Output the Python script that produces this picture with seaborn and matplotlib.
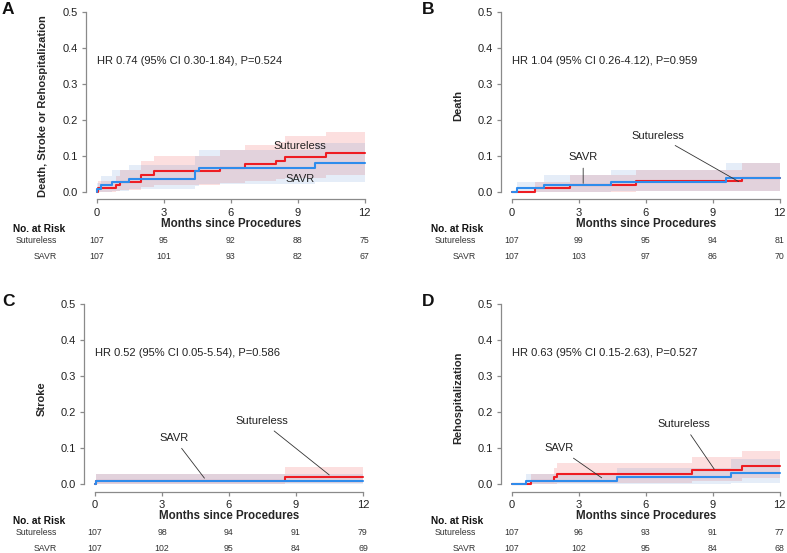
import matplotlib
matplotlib.use("Agg")
import matplotlib.pyplot as plt
import matplotlib.transforms as mtransforms
import pandas as pd
import seaborn as sns

sns.set_style("ticks")
plt.rcParams["font.family"] = ["Liberation Sans", "DejaVu Sans"]

RED = "#ee1d23"
BLUE = "#2f8cec"
GROUPS = ["Sutureless", "SAVR"]
MONTHS = [0, 3, 6, 9, 12]
FOLLOW_UP = 12

# A: death, stroke or rehospitalization
A_SUT_T = [0, 0.06, 0.85, 1.03, 2.0, 2.57, 5.5, 6.63, 8.02, 8.42, 10.28]
A_SUT_V = [0, 0.011, 0.02, 0.028, 0.047, 0.057, 0.067, 0.077, 0.086, 0.096, 0.109]
A_SUT_LO = [0, 0, 0.002, 0.005, 0.015, 0.02, 0.025, 0.03, 0.035, 0.04, 0.046]
A_SUT_HI = [0, 0.03, 0.045, 0.06, 0.087, 0.1, 0.118, 0.13, 0.14, 0.155, 0.167]
A_SAVR_T = [0, 0.03, 0.2, 0.67, 1.45, 4.42, 4.6, 9.78]
A_SAVR_V = [0, 0.009, 0.019, 0.028, 0.037, 0.057, 0.068, 0.08]
A_SAVR_LO = [0, 0, 0, 0.003, 0.008, 0.017, 0.022, 0.028]
A_SAVR_HI = [0, 0.025, 0.045, 0.06, 0.075, 0.1, 0.117, 0.135]

# B: death
B_SUT_T = [0, 1.05, 2.62, 5.56, 10.3]
B_SUT_V = [0, 0.01, 0.02, 0.03, 0.04]
B_SUT_LO = [0, 0, 0, 0.002, 0.004]
B_SUT_HI = [0, 0.029, 0.046, 0.062, 0.08]
B_SAVR_T = [0, 0.22, 1.45, 4.45, 9.6]
B_SAVR_V = [0, 0.01, 0.019, 0.029, 0.04]
B_SAVR_LO = [0, 0, 0, 0.002, 0.004]
B_SAVR_HI = [0, 0.029, 0.046, 0.062, 0.08]

# C: stroke
C_SUT_T = [0, 0.05, 8.49]
C_SUT_V = [0, 0.01, 0.021]
C_SUT_LO = [0, 0, 0.003]
C_SUT_HI = [0, 0.028, 0.049]
C_SAVR_T = [0, 0.03]
C_SAVR_V = [0, 0.01]
C_SAVR_LO = [0, 0]
C_SAVR_HI = [0, 0.028]

# D: rehospitalization
D_SUT_T = [0, 0.87, 1.91, 2.02, 8.07, 10.31]
D_SUT_V = [0, 0.01, 0.019, 0.029, 0.04, 0.051]
D_SUT_LO = [0, 0, 0, 0.003, 0.01, 0.017]
D_SUT_HI = [0, 0.028, 0.045, 0.06, 0.077, 0.093]
D_SAVR_T = [0, 0.63, 4.73, 9.82]
D_SAVR_V = [0, 0.01, 0.02, 0.032]
D_SAVR_LO = [0, 0, 0.002, 0.005]
D_SAVR_HI = [0, 0.028, 0.044, 0.07]

# numbers at risk
A_RISK_SUT = [107, 95, 92, 88, 75]
A_RISK_SAVR = [107, 101, 93, 82, 67]
B_RISK_SUT = [107, 99, 95, 94, 81]
B_RISK_SAVR = [107, 103, 97, 86, 70]
C_RISK_SUT = [107, 98, 94, 91, 79]
C_RISK_SAVR = [107, 102, 95, 84, 69]
D_RISK_SUT = [107, 96, 93, 91, 77]
D_RISK_SAVR = [107, 102, 95, 84, 68]

HR_TEXT = {
    "A": "HR 0.74 (95% CI 0.30-1.84), P=0.524",
    "B": "HR 1.04 (95% CI 0.26-4.12), P=0.959",
    "C": "HR 0.52 (95% CI 0.05-5.54), P=0.586",
    "D": "HR 0.63 (95% CI 0.15-2.63), P=0.527",
}
YLABELS = {
    "A": "Death, Stroke or Rehospitalization",
    "B": "Death",
    "C": "Stroke",
    "D": "Rehospitalization",
}

W, H = 787, 553


def curve_frame(t, v, lo, hi, group):
    return pd.DataFrame({
        "t": t + [FOLLOW_UP],
        "v": v + [v[-1]],
        "lo": lo + [lo[-1]],
        "hi": hi + [hi[-1]],
        "group": group,
    })


def draw_panel(ax, letter, sut, savr, risk_sut, risk_savr, notes, col):
    df = pd.concat([curve_frame(*sut, "Sutureless"), curve_frame(*savr, "SAVR")])

    # confidence bands first
    d = df[df.group == "Sutureless"]
    ax.fill_between(d.t, d.lo, d.hi, step="post", color=RED, alpha=0.14, lw=0)
    d = df[df.group == "SAVR"]
    ax.fill_between(d.t, d.lo, d.hi, step="post", color="#4a86d0", alpha=0.14, lw=0)

    sns.lineplot(data=df, x="t", y="v", hue="group", hue_order=GROUPS,
                 palette={"Sutureless": RED, "SAVR": BLUE}, drawstyle="steps-post",
                 estimator=None, errorbar=None, legend=False, lw=1.5, ax=ax)

    ax.set_xlim(-0.48, 12.48)
    ax.set_ylim(-0.02, 0.52)
    ax.set_xticks(MONTHS)
    ax.set_yticks([0, 0.1, 0.2, 0.3, 0.4, 0.5])
    ax.set_yticklabels(["0.0", "0.1", "0.2", "0.3", "0.4", "0.5"])
    sns.despine(ax=ax)
    ax.spines["left"].set_bounds(0, 0.5)
    ax.spines["bottom"].set_bounds(0, 12)
    for s in ("left", "bottom"):
        ax.spines[s].set_color("#8a8a8a")
        ax.spines[s].set_linewidth(0.9)
    ax.tick_params(length=3, width=0.9, color="#8a8a8a", labelsize=8,
                   labelcolor="#222222", pad=3)

    ax.set_xlabel("Months since Procedures", fontsize=8.3, fontweight="bold")
    ax.xaxis.set_label_coords(0.5, -0.095)
    ax.set_ylabel(YLABELS[letter], fontsize=8, fontweight="bold")
    ax.yaxis.set_label_coords(-0.13, 0.48)

    ax.text(0, 0.365, HR_TEXT[letter], fontsize=8, color="#222222", va="center")

    for label, (tx, ty), end in notes:
        if end is None:
            ax.text(tx, ty, label, fontsize=8, color="#222222", ha="center", va="center")
        else:
            ax.annotate(label, xy=end, xytext=(tx, ty), fontsize=8, color="#222222",
                        ha="center", va="center",
                        arrowprops=dict(arrowstyle="-", color="#333333", lw=0.6,
                                        shrinkA=2, shrinkB=0))

    # risk table
    trans = mtransforms.blended_transform_factory(ax.transData, ax.transAxes)
    for x, n1, n2 in zip(MONTHS, risk_sut, risk_savr):
        ax.text(x, -0.21, str(n1), transform=trans, fontsize=6.3, color="#333333",
                ha="center", va="center")
        ax.text(x, -0.295, str(n2), transform=trans, fontsize=6.3, color="#333333",
                ha="center", va="center")

    pos = ax.get_position()
    left_px, right_px = (13, 57) if col == 0 else (431, 476)
    fig = ax.figure
    fig.text(left_px / W, pos.y0 - 0.153 * pos.height, "No. at Risk", fontsize=7.3,
             fontweight="bold", color="#111111", ha="left", va="center")
    fig.text(right_px / W, pos.y0 - 0.21 * pos.height, "Sutureless", fontsize=6.3,
             color="#333333", ha="right", va="center")
    fig.text(right_px / W, pos.y0 - 0.295 * pos.height, "SAVR", fontsize=6.3,
             color="#333333", ha="right", va="center")


fig = plt.figure(figsize=(W / 100, H / 100), dpi=100)
ax_w = 289.4 / W
ax_h = 194.4 / H
positions = {
    "A": (86 / W, 1 - 199.2 / H),
    "B": (501 / W, 1 - 199.2 / H),
    "C": (84.3 / W, 1 - 491.5 / H),
    "D": (501 / W, 1 - 491.5 / H),
}
panels = [
    ("A", (A_SUT_T, A_SUT_V, A_SUT_LO, A_SUT_HI), (A_SAVR_T, A_SAVR_V, A_SAVR_LO, A_SAVR_HI),
     A_RISK_SUT, A_RISK_SAVR,
     [("Sutureless", (9.09, 0.129), None), ("SAVR", (9.09, 0.036), None)], 0, 10),
    ("B", (B_SUT_T, B_SUT_V, B_SUT_LO, B_SUT_HI), (B_SAVR_T, B_SAVR_V, B_SAVR_LO, B_SAVR_HI),
     B_RISK_SUT, B_RISK_SAVR,
     [("SAVR", (3.2, 0.097), (3.2, 0.024)), ("Sutureless", (6.56, 0.156), (10.16, 0.029))], 1, 10),
    ("C", (C_SUT_T, C_SUT_V, C_SUT_LO, C_SUT_HI), (C_SAVR_T, C_SAVR_V, C_SAVR_LO, C_SAVR_HI),
     C_RISK_SUT, C_RISK_SAVR,
     [("SAVR", (3.52, 0.129), (4.9, 0.017)), ("Sutureless", (7.46, 0.176), (10.49, 0.026))], 0, 302),
    ("D", (D_SUT_T, D_SUT_V, D_SUT_LO, D_SUT_HI), (D_SAVR_T, D_SAVR_V, D_SAVR_LO, D_SAVR_HI),
     D_RISK_SUT, D_RISK_SAVR,
     [("SAVR", (2.13, 0.10), (4.03, 0.018)), ("Sutureless", (7.69, 0.167), (9.07, 0.042))], 1, 302),
]

for letter, sut, savr, r1, r2, notes, col, letter_y in panels:
    x0, y0 = positions[letter]
    ax = fig.add_axes([x0, y0, ax_w, ax_h])
    draw_panel(ax, letter, sut, savr, r1, r2, notes, col)
    lx = 2 if col == 0 else 422
    fig.text(lx / W, 1 - letter_y / H, letter, fontsize=12.5, fontweight="bold",
             ha="left", va="center", color="#111111")

fig.savefig("out.png", dpi=100)
